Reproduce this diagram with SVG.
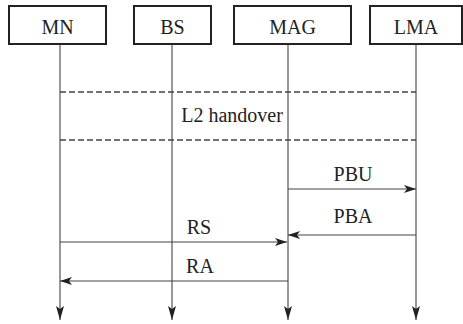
<svg xmlns="http://www.w3.org/2000/svg" width="463" height="324" viewBox="0 0 463 324">
<defs>
<marker id="ah" markerWidth="12" markerHeight="8" refX="12" refY="4" orient="auto" markerUnits="userSpaceOnUse">
<path d="M0,0 L12,4 L0,8 L3,4 Z" fill="#222"/>
</marker>
<marker id="dh" markerWidth="8" markerHeight="14" refX="4" refY="14" orient="0" markerUnits="userSpaceOnUse">
<path d="M0,0 L4,14 L8,0 L4,3 Z" fill="#222"/>
</marker>
</defs>
<style>
.box{fill:#fff;stroke:#222;stroke-width:2}
text{font-family:'Liberation Serif','Times New Roman',serif;font-size:20px;fill:#222;text-anchor:middle}
.life{stroke:#555;stroke-width:1.2;fill:none}
.msg{stroke:#444;stroke-width:1.2;fill:none}
.dash{stroke:#444;stroke-width:1.4;stroke-dasharray:6,3;fill:none}
</style>
<rect width="463" height="324" fill="#fff"/>
<g id="lifelines">
<line class="life" x1="60" y1="44" x2="60" y2="320" marker-end="url(#dh)"/>
<line class="life" x1="172" y1="44" x2="172" y2="320" marker-end="url(#dh)"/>
<line class="life" x1="288" y1="44" x2="288" y2="320" marker-end="url(#dh)"/>
<line class="life" x1="416" y1="44" x2="416" y2="320" marker-end="url(#dh)"/>
</g>
<g id="MN"><rect class="box" x="9" y="6" width="97" height="38"/><text x="57.5" y="34" font-family="Liberation Serif, serif">MN</text></g>
<g id="BS"><rect class="box" x="134" y="6" width="77" height="38"/><text x="172.5" y="34" font-family="Liberation Serif, serif">BS</text></g>
<g id="MAG"><rect class="box" x="234" y="6" width="117" height="38"/><text x="292.5" y="34" font-family="Liberation Serif, serif">MAG</text></g>
<g id="LMA"><rect class="box" x="370" y="6" width="92" height="38"/><text x="416" y="34" font-family="Liberation Serif, serif">LMA</text></g>
<g id="connectors">
<line class="dash" x1="60" y1="92" x2="416" y2="92"/>
<line class="dash" x1="60" y1="140" x2="416" y2="140"/>
<line class="msg" x1="288" y1="189" x2="416" y2="189" marker-end="url(#ah)"/>
<line class="msg" x1="416" y1="235" x2="288" y2="235" marker-end="url(#ah)"/>
<line class="msg" x1="60" y1="242" x2="287" y2="242" marker-end="url(#ah)"/>
<line class="msg" x1="288" y1="281" x2="60" y2="281" marker-end="url(#ah)"/>
</g>
<g id="labels">
<text x="232" y="122" font-family="Liberation Serif, serif">L2 handover</text>
<text x="353" y="181" font-family="Liberation Serif, serif">PBU</text>
<text x="353" y="223" font-family="Liberation Serif, serif">PBA</text>
<text x="199" y="234" font-family="Liberation Serif, serif">RS</text>
<text x="200" y="273" font-family="Liberation Serif, serif">RA</text>
</g>
</svg>
